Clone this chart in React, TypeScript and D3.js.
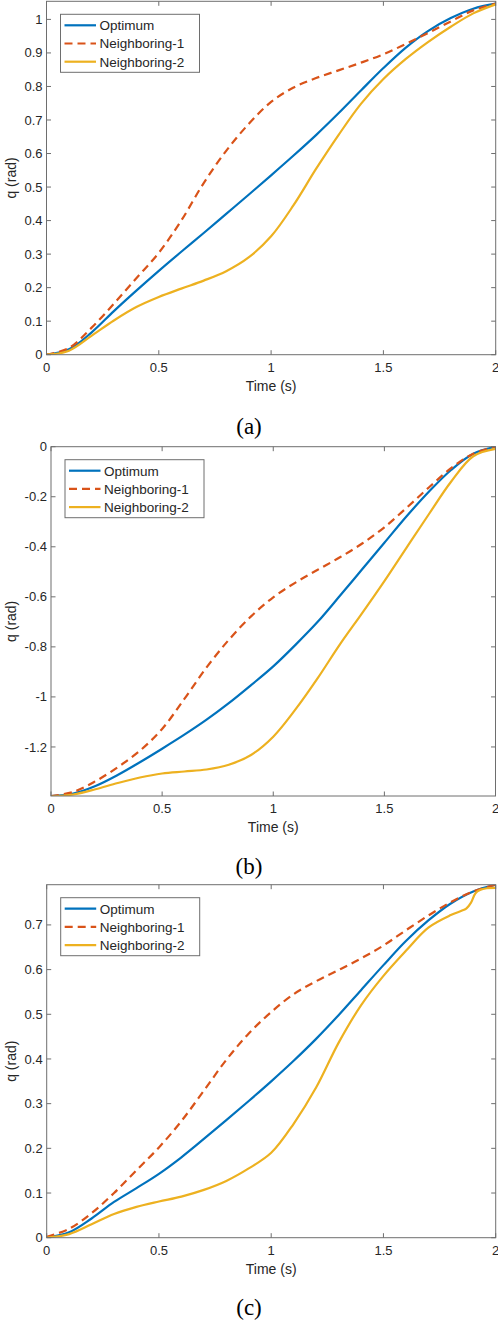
import React from "react";
import * as d3 from "d3";

// sample times (s)
const time = [0, 0.1, 0.2, 0.3, 0.4, 0.5, 0.6, 0.7, 0.8, 0.9, 1.0, 1.1, 1.2, 1.3, 1.4, 1.5, 1.6, 1.7, 1.8, 1.9, 2.0];
// panel (c) Neighboring-2 has a small kink near the end, so it is sampled finer there
const timeC2 = [0, 0.1, 0.2, 0.3, 0.4, 0.5, 0.6, 0.7, 0.8, 0.9, 1.0, 1.1, 1.2, 1.3, 1.4, 1.5, 1.6, 1.7, 1.8, 1.85, 1.87, 1.89, 1.91, 1.93, 1.96, 2.0];

// panel (a)
const optimumA = [0, 0.016, 0.066, 0.13, 0.191, 0.25, 0.307, 0.363, 0.42, 0.477, 0.535, 0.594, 0.655, 0.72, 0.788, 0.855, 0.916, 0.966, 1.004, 1.032, 1.047];
const neighbor1A = [0, 0.02, 0.08, 0.152, 0.228, 0.304, 0.4, 0.512, 0.608, 0.688, 0.754, 0.797, 0.825, 0.848, 0.871, 0.896, 0.927, 0.96, 0.994, 1.027, 1.047];
const neighbor2A = [0, 0.012, 0.056, 0.102, 0.142, 0.172, 0.197, 0.221, 0.249, 0.29, 0.353, 0.446, 0.554, 0.655, 0.748, 0.822, 0.882, 0.933, 0.978, 1.018, 1.045];

// panel (b)
const optimumB = [-1.396, -1.386, -1.356, -1.312, -1.261, -1.207, -1.151, -1.091, -1.025, -0.953, -0.878, -0.792, -0.7, -0.596, -0.49, -0.384, -0.278, -0.18, -0.093, -0.028, 0];
const neighbor1B = [-1.396, -1.38, -1.337, -1.281, -1.215, -1.128, -1.008, -0.882, -0.772, -0.678, -0.602, -0.543, -0.492, -0.442, -0.387, -0.322, -0.244, -0.163, -0.086, -0.028, 0];
const neighbor2B = [-1.398, -1.39, -1.369, -1.344, -1.322, -1.306, -1.298, -1.29, -1.271, -1.232, -1.159, -1.05, -0.925, -0.79, -0.665, -0.537, -0.403, -0.27, -0.14, -0.038, -0.009];

// panel (c)
const optimumC = [0, 0.012, 0.043, 0.08, 0.111, 0.143, 0.18, 0.221, 0.263, 0.306, 0.35, 0.396, 0.445, 0.498, 0.554, 0.61, 0.664, 0.71, 0.748, 0.775, 0.79];
const neighbor1C = [0.002, 0.02, 0.055, 0.1, 0.151, 0.202, 0.261, 0.329, 0.398, 0.457, 0.505, 0.545, 0.574, 0.599, 0.625, 0.654, 0.688, 0.721, 0.751, 0.775, 0.79];
const neighbor2C = [0, 0.008, 0.03, 0.053, 0.069, 0.081, 0.092, 0.107, 0.127, 0.155, 0.19, 0.255, 0.336, 0.436, 0.52, 0.586, 0.642, 0.694, 0.722, 0.732, 0.737, 0.75, 0.771, 0.778, 0.782, 0.783];

const seriesNames = ["Optimum", "Neighboring-1", "Neighboring-2"];
const seriesColors = ["#0072BD", "#D95319", "#EDB120"];

const xTicks = [0, 0.5, 1, 1.5, 2];
const yTicksA = [0, 0.1, 0.2, 0.3, 0.4, 0.5, 0.6, 0.7, 0.8, 0.9, 1];
const yTicksB = [-1.2, -1, -0.8, -0.6, -0.4, -0.2, 0];
const yTicksC = [0, 0.1, 0.2, 0.3, 0.4, 0.5, 0.6, 0.7];

const xLabel = "Time (s)";
const yLabel = "q (rad)";
const captions = ["(a)", "(b)", "(c)"];

const SANS = "'Liberation Sans', Arial, Helvetica, sans-serif";
const SERIF = "'Liberation Serif', 'Times New Roman', serif";
const AXIS_COLOR = "#6e6e6e";
const TEXT_COLOR = "#262626";

type Box = { left: number; right: number; top: number; bottom: number };

interface PanelProps {
  id: string;
  box: Box;
  yDomain: [number, number];
  yTicks: number[];
  series: { t: number[]; q: number[] }[];
  caption: string;
  captionY: number;
}

const fmt = (v: number) => String(+v.toFixed(2));

const Panel: React.FC<PanelProps> = ({ id, box, yDomain, yTicks, series, caption, captionY }) => {
  const x = d3.scaleLinear().domain([0, 2]).range([box.left, box.right]);
  const y = d3.scaleLinear().domain(yDomain).range([box.bottom, box.top]);
  const line = d3
    .line<[number, number]>()
    .x((d) => x(d[0]))
    .y((d) => y(d[1]))
    .curve(d3.curveCatmullRom.alpha(0.5));

  const tickLen = 4.5;
  const midX = (box.left + box.right) / 2;
  const midY = (box.top + box.bottom) / 2;

  // legend placement, relative to the axes corner
  const lg = { x: box.left + 14, y: box.top + 13, w: 139, h: 58 };

  return (
    <g>
      <defs>
        <clipPath id={`clip-${id}`}>
          <rect x={box.left} y={box.top} width={box.right - box.left} height={box.bottom - box.top} />
        </clipPath>
      </defs>

      {/* curves */}
      <g clipPath={`url(#clip-${id})`}>
        {series.map((s, i) => (
          <path
            key={i}
            d={line(s.t.map((t, k) => [t, s.q[k]] as [number, number])) || ""}
            fill="none"
            stroke={seriesColors[i]}
            strokeWidth={2.2}
            strokeDasharray={i === 1 ? "8,5" : undefined}
          />
        ))}
      </g>

      {/* frame */}
      <rect
        x={box.left}
        y={box.top}
        width={box.right - box.left}
        height={box.bottom - box.top}
        fill="none"
        stroke={AXIS_COLOR}
        strokeWidth={1}
      />

      {/* x ticks (inside, bottom and top) */}
      {xTicks.map((t) => (
        <g key={`x${t}`}>
          <line x1={x(t)} x2={x(t)} y1={box.bottom} y2={box.bottom - tickLen} stroke={AXIS_COLOR} />
          <line x1={x(t)} x2={x(t)} y1={box.top} y2={box.top + tickLen} stroke={AXIS_COLOR} />
          <text
            x={x(t)}
            y={box.bottom + 17}
            textAnchor="middle"
            fontFamily={SANS}
            fontSize={13}
            fill={TEXT_COLOR}
          >
            {fmt(t)}
          </text>
        </g>
      ))}

      {/* y ticks (inside, left and right) */}
      {yTicks.map((v) => (
        <g key={`y${v}`}>
          <line x1={box.left} x2={box.left + tickLen} y1={y(v)} y2={y(v)} stroke={AXIS_COLOR} />
          <line x1={box.right} x2={box.right - tickLen} y1={y(v)} y2={y(v)} stroke={AXIS_COLOR} />
          <text
            x={box.left - 4}
            y={y(v)}
            dy="0.35em"
            textAnchor="end"
            fontFamily={SANS}
            fontSize={13}
            fill={TEXT_COLOR}
          >
            {fmt(v)}
          </text>
        </g>
      ))}

      {/* axis labels */}
      <text
        x={midX}
        y={box.bottom + 36}
        textAnchor="middle"
        fontFamily={SANS}
        fontSize={14}
        fill={TEXT_COLOR}
      >
        {xLabel}
      </text>
      <text
        transform={`translate(11,${midY}) rotate(-90)`}
        dy="0.35em"
        textAnchor="middle"
        fontFamily={SANS}
        fontSize={14}
        fill={TEXT_COLOR}
      >
        {yLabel}
      </text>

      {/* legend */}
      <rect x={lg.x} y={lg.y} width={lg.w} height={lg.h} fill="#ffffff" stroke={AXIS_COLOR} strokeWidth={1} />
      {seriesNames.map((name, i) => {
        const ry = lg.y + 11 + i * 18.2;
        return (
          <g key={name}>
            <line
              x1={lg.x + 4}
              x2={lg.x + 35.5}
              y1={ry}
              y2={ry}
              stroke={seriesColors[i]}
              strokeWidth={2.2}
              strokeDasharray={i === 1 ? "8,5" : undefined}
            />
            <text x={lg.x + 39} y={ry} dy="0.36em" fontFamily={SANS} fontSize={13.5} fill={TEXT_COLOR}>
              {name}
            </text>
          </g>
        );
      })}

      {/* sub-figure caption */}
      <text x={249} y={captionY} dy="0.33em" textAnchor="middle" fontFamily={SERIF} fontSize={23} fill="#000">
        {caption}
      </text>
    </g>
  );
};

const App: React.FC = () => {
  const panels: PanelProps[] = [
    {
      id: "a",
      box: { left: 46.5, right: 495.7, top: 1.3, bottom: 354.7 },
      yDomain: [0, 1.054],
      yTicks: yTicksA,
      series: [
        { t: time, q: optimumA },
        { t: time, q: neighbor1A },
        { t: time, q: neighbor2A },
      ],
      caption: captions[0],
      captionY: 426.7,
    },
    {
      id: "b",
      box: { left: 51, right: 495.5, top: 446.7, bottom: 796 },
      yDomain: [-1.396, 0],
      yTicks: yTicksB,
      series: [
        { t: time, q: optimumB },
        { t: time, q: neighbor1B },
        { t: time, q: neighbor2B },
      ],
      caption: captions[1],
      captionY: 866.7,
    },
    {
      id: "c",
      box: { left: 46.7, right: 495.7, top: 884.7, bottom: 1237.7 },
      yDomain: [0, 0.79],
      yTicks: yTicksC,
      series: [
        { t: time, q: optimumC },
        { t: time, q: neighbor1C },
        { t: timeC2, q: neighbor2C },
      ],
      caption: captions[2],
      captionY: 1307.5,
    },
  ];

  return (
    <div style={{ position: "absolute", left: 0, top: 0, background: "#fff" }}>
      <svg width={498} height={1322} style={{ display: "block" }}>
        <rect width={498} height={1322} fill="#ffffff" />
        {panels.map((p) => (
          <Panel key={p.id} {...p} />
        ))}
      </svg>
    </div>
  );
};

export default App;
